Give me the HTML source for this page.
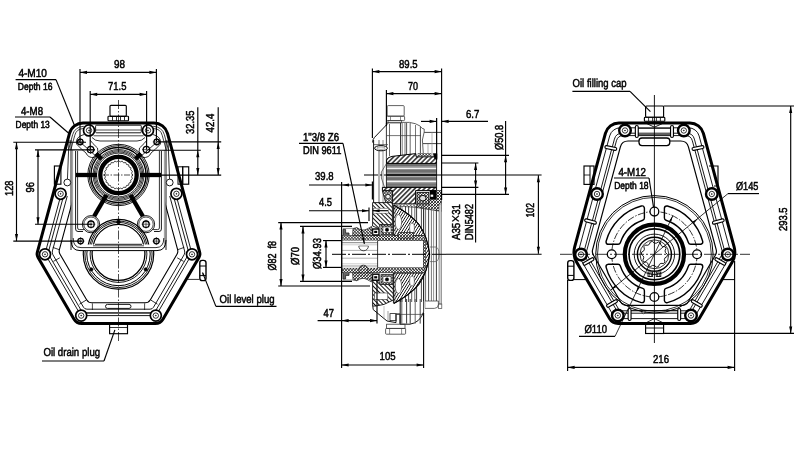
<!DOCTYPE html>
<html><head><meta charset="utf-8"><title>Gearbox dimensions</title>
<style>
html,body{margin:0;padding:0;background:#fff;}
body{width:800px;height:450px;overflow:hidden;}
svg{display:block;}
text{text-rendering:geometricPrecision;}
.t{font-family:"Liberation Sans","DejaVu Sans",sans-serif;fill:#000;stroke:#000;stroke-width:0.5;}
.b{font-family:"Liberation Sans","DejaVu Sans",sans-serif;fill:#000;stroke:#000;stroke-width:0.55;}
</style></head><body>
<svg width="800" height="450" viewBox="0 0 800 450" style="filter:grayscale(1)">
<rect x="0" y="0" width="800" height="450" fill="#fff"/>
<rect x="110.00" y="105.30" width="16.30" height="11.00" rx="1" stroke="#000" stroke-width="1.15" fill="none" />
<rect x="108.00" y="116.20" width="20.50" height="4.60" rx="0.8" stroke="#000" stroke-width="1.15" fill="none" />
<line x1="112.50" y1="116.40" x2="112.50" y2="120.60" stroke="#000" stroke-width="0.8" />
<line x1="116.50" y1="116.40" x2="116.50" y2="120.60" stroke="#000" stroke-width="0.8" />
<line x1="120.50" y1="116.40" x2="120.50" y2="120.60" stroke="#000" stroke-width="0.8" />
<line x1="124.50" y1="116.40" x2="124.50" y2="120.60" stroke="#000" stroke-width="0.8" />
<rect x="109.60" y="323.70" width="17.90" height="10.00" rx="0" stroke="#000" stroke-width="1.15" fill="none" />
<line x1="109.60" y1="327.50" x2="127.50" y2="327.50" stroke="#000" stroke-width="0.8" />
<rect x="54.40" y="166.00" width="6.50" height="18.20" rx="0" stroke="#000" stroke-width="1.15" fill="none" />
<rect x="182.70" y="166.80" width="6.00" height="17.40" rx="0" stroke="#000" stroke-width="1.15" fill="none" />
<rect x="178.00" y="166.80" width="4.70" height="17.40" rx="0" stroke="#000" stroke-width="1.0" fill="none" />
<rect x="199.80" y="260.40" width="6.20" height="20.20" rx="2.4" stroke="#000" stroke-width="1.4" fill="#fff" />
<line x1="199.80" y1="266.00" x2="206.00" y2="266.00" stroke="#000" stroke-width="1.0" />
<line x1="199.80" y1="275.60" x2="206.00" y2="275.60" stroke="#000" stroke-width="1.0" />
<line x1="187.40" y1="279.40" x2="199.80" y2="279.40" stroke="#333" stroke-width="1.0" />
<path d="M83.02,123.00 A14,14 0 0 0 69.50,133.34 L37.36,252.17 A7,7 0 0 0 38.08,257.53 L73.90,318.93 A9,9 0 0 0 81.67,323.40 L155.33,323.40 A9,9 0 0 0 163.10,318.93 L198.92,257.53 A7,7 0 0 0 199.64,252.17 L167.50,133.34 A14,14 0 0 0 153.98,123.00 Z" stroke="#000" stroke-width="3.0" fill="none" />
<clipPath id="lc"><path d="M0,196 H71.2 V250.8 H165.8 V196 H240 V340 H0 Z"/></clipPath>
<clipPath id="lc2"><path d="M0,100 H84 V150 H0 Z M153,100 H240 V150 H153 Z"/></clipPath>
<g clip-path="url(#lc)">
<path d="M85.16,130.80 A9,9 0 0 0 76.47,137.45 L45.42,252.27 A4,4 0 0 0 45.82,255.33 L79.53,313.12 A5,5 0 0 0 83.85,315.60 L153.15,315.60 A5,5 0 0 0 157.47,313.12 L191.18,255.33 A4,4 0 0 0 191.58,252.27 L160.53,137.45 A9,9 0 0 0 151.84,130.80 Z" stroke="#000" stroke-width="0.9" fill="none" />
<path d="M85.77,133.60 A7,7 0 0 0 79.02,138.77 L48.54,251.47 A5,5 0 0 0 49.04,255.29 L81.14,310.32 A5,5 0 0 0 85.46,312.80 L151.54,312.80 A5,5 0 0 0 155.86,310.32 L187.96,255.29 A5,5 0 0 0 188.46,251.47 L157.98,138.77 A7,7 0 0 0 151.23,133.60 Z" stroke="#000" stroke-width="0.9" fill="none" />
<path d="M87.00,137.20 A5,5 0 0 0 82.17,140.89 L52.40,250.96 A5,5 0 0 0 52.91,254.78 L83.50,307.22 A4,4 0 0 0 86.95,309.20 L150.05,309.20 A4,4 0 0 0 153.50,307.22 L184.09,254.78 A5,5 0 0 0 184.60,250.96 L154.83,140.89 A5,5 0 0 0 150.00,137.20 Z" stroke="#000" stroke-width="0.9" fill="none" />
<path d="M91.90,143.60 A5,5 0 0 0 87.07,147.29 L59.39,249.64 A6,6 0 0 0 60.00,254.23 L86.60,299.82 A6,6 0 0 0 91.78,302.80 L145.22,302.80 A6,6 0 0 0 150.40,299.82 L177.00,254.23 A6,6 0 0 0 177.61,249.64 L149.93,147.29 A5,5 0 0 0 145.10,143.60 Z" stroke="#000" stroke-width="1.1" fill="none" />
</g>
<g clip-path="url(#lc2)">
<path d="M83.32,126.40 A11,11 0 0 0 72.70,134.53 L40.69,252.90 A4,4 0 0 0 41.10,255.96 L76.72,317.02 A6,6 0 0 0 81.90,320.00 L155.10,320.00 A6,6 0 0 0 160.28,317.02 L195.90,255.96 A4,4 0 0 0 196.31,252.90 L164.30,134.53 A11,11 0 0 0 153.68,126.40 Z" stroke="#111" stroke-width="0.8" fill="none" />
<path d="M83.48,128.60 A9,9 0 0 0 74.79,135.25 L43.05,252.59 A4,4 0 0 0 43.46,255.65 L77.98,314.82 A6,6 0 0 0 83.16,317.80 L153.84,317.80 A6,6 0 0 0 159.02,314.82 L193.54,255.65 A4,4 0 0 0 193.95,252.59 L162.21,135.25 A9,9 0 0 0 153.52,128.60 Z" stroke="#111" stroke-width="0.8" fill="none" />
</g>
<line x1="69.00" y1="140.00" x2="67.40" y2="180.00" stroke="#000" stroke-width="0.8" />
<line x1="71.00" y1="140.00" x2="71.00" y2="250.00" stroke="#000" stroke-width="0.9" />
<line x1="72.60" y1="150.00" x2="72.60" y2="246.00" stroke="#555" stroke-width="0.6" />
<line x1="52.80" y1="247.40" x2="59.60" y2="249.80" stroke="#000" stroke-width="0.8" />
<line x1="53.40" y1="261.40" x2="59.80" y2="257.80" stroke="#000" stroke-width="0.8" />
<line x1="92.40" y1="303.30" x2="92.40" y2="310.00" stroke="#000" stroke-width="0.7" />
<line x1="79.50" y1="304.20" x2="86.00" y2="300.20" stroke="#000" stroke-width="0.8" />
<line x1="168.00" y1="140.00" x2="169.60" y2="180.00" stroke="#000" stroke-width="0.8" />
<line x1="166.00" y1="140.00" x2="166.00" y2="250.00" stroke="#000" stroke-width="0.9" />
<line x1="164.40" y1="150.00" x2="164.40" y2="246.00" stroke="#555" stroke-width="0.6" />
<line x1="184.20" y1="247.40" x2="177.40" y2="249.80" stroke="#000" stroke-width="0.8" />
<line x1="183.60" y1="261.40" x2="177.20" y2="257.80" stroke="#000" stroke-width="0.8" />
<line x1="144.60" y1="303.30" x2="144.60" y2="310.00" stroke="#000" stroke-width="0.7" />
<line x1="157.50" y1="304.20" x2="151.00" y2="300.20" stroke="#000" stroke-width="0.8" />
<line x1="118.50" y1="100.00" x2="118.50" y2="341.00" stroke="#000" stroke-width="0.7" stroke-dasharray="9 2 1.5 2"/>
<circle cx="89.00" cy="130.40" r="5.50" stroke="#000" stroke-width="1.7" fill="#fff" />
<circle cx="89.00" cy="130.40" r="2.70" stroke="#000" stroke-width="0.8" fill="none" />
<circle cx="89.00" cy="130.40" r="0.50" stroke="#000" stroke-width="0.5" fill="#000" />
<circle cx="148.00" cy="130.40" r="5.50" stroke="#000" stroke-width="1.7" fill="#fff" />
<circle cx="148.00" cy="130.40" r="2.70" stroke="#000" stroke-width="0.8" fill="none" />
<circle cx="148.00" cy="130.40" r="0.50" stroke="#000" stroke-width="0.5" fill="#000" />
<circle cx="60.60" cy="193.80" r="5.50" stroke="#000" stroke-width="1.7" fill="#fff" />
<circle cx="60.60" cy="193.80" r="2.70" stroke="#000" stroke-width="0.8" fill="none" />
<circle cx="60.60" cy="193.80" r="0.50" stroke="#000" stroke-width="0.5" fill="#000" />
<circle cx="176.40" cy="193.80" r="5.50" stroke="#000" stroke-width="1.7" fill="#fff" />
<circle cx="176.40" cy="193.80" r="2.70" stroke="#000" stroke-width="0.8" fill="none" />
<circle cx="176.40" cy="193.80" r="0.50" stroke="#000" stroke-width="0.5" fill="#000" />
<circle cx="45.00" cy="254.30" r="5.50" stroke="#000" stroke-width="1.7" fill="#fff" />
<circle cx="45.00" cy="254.30" r="2.70" stroke="#000" stroke-width="0.8" fill="none" />
<circle cx="45.00" cy="254.30" r="0.50" stroke="#000" stroke-width="0.5" fill="#000" />
<circle cx="192.00" cy="254.30" r="5.50" stroke="#000" stroke-width="1.7" fill="#fff" />
<circle cx="192.00" cy="254.30" r="2.70" stroke="#000" stroke-width="0.8" fill="none" />
<circle cx="192.00" cy="254.30" r="0.50" stroke="#000" stroke-width="0.5" fill="#000" />
<circle cx="81.20" cy="315.60" r="5.50" stroke="#000" stroke-width="1.7" fill="#fff" />
<circle cx="81.20" cy="315.60" r="2.70" stroke="#000" stroke-width="0.8" fill="none" />
<circle cx="81.20" cy="315.60" r="0.50" stroke="#000" stroke-width="0.5" fill="#000" />
<circle cx="155.80" cy="315.60" r="5.50" stroke="#000" stroke-width="1.7" fill="#fff" />
<circle cx="155.80" cy="315.60" r="2.70" stroke="#000" stroke-width="0.8" fill="none" />
<circle cx="155.80" cy="315.60" r="0.50" stroke="#000" stroke-width="0.5" fill="#000" />
<circle cx="67.30" cy="182.50" r="3.40" stroke="#000" stroke-width="0.9" fill="#fff" />
<circle cx="169.70" cy="182.50" r="3.40" stroke="#000" stroke-width="0.9" fill="#fff" />
<rect x="95.60" y="125.20" width="45.70" height="7.60" rx="1" stroke="#000" stroke-width="0.9" fill="none" />
<line x1="96.00" y1="130.00" x2="141.00" y2="130.00" stroke="#000" stroke-width="0.7" />
<rect x="105.50" y="304.40" width="25.50" height="4.00" rx="2" stroke="#000" stroke-width="0.9" fill="none" />
<line x1="86.00" y1="313.20" x2="151.00" y2="313.20" stroke="#000" stroke-width="0.7" />
<path d="M75.6,151 L75.6,229 Q75.6,231.5 78,231.5 L83,231.5" stroke="#000" stroke-width="0.9" fill="none" />
<path d="M161.4,151 L161.4,229 Q161.4,231.5 159.0,231.5 L154.0,231.5" stroke="#000" stroke-width="0.9" fill="none" />
<path d="M77.6,151 L77.6,228 Q77.6,229.6 79.5,229.6 L84,229.6" stroke="#000" stroke-width="0.8" fill="none" />
<path d="M159.4,151 L159.4,228 Q159.4,229.6 157.5,229.6 L153.0,229.6" stroke="#000" stroke-width="0.8" fill="none" />
<path d="M71,240 Q71,250.6 80,250.6 L157.0,250.6 Q166.0,250.6 166.0,240" stroke="#000" stroke-width="1.0" fill="none" />
<path d="M73.2,238 Q73.2,247.6 81,247.6 L156.0,247.6 Q163.8,247.6 163.8,238" stroke="#000" stroke-width="0.8" fill="none" />
<circle cx="118.50" cy="175.00" r="30.70" stroke="#000" stroke-width="0.9" fill="none" />
<circle cx="118.50" cy="175.00" r="29.30" stroke="#000" stroke-width="0.9" fill="none" />
<circle cx="118.50" cy="175.00" r="27.60" stroke="#000" stroke-width="1.5" fill="none" />
<circle cx="118.50" cy="175.00" r="25.50" stroke="#000" stroke-width="0.8" fill="none" />
<circle cx="118.50" cy="175.00" r="24.30" stroke="#000" stroke-width="0.8" fill="none" />
<circle cx="118.50" cy="175.00" r="23.10" stroke="#000" stroke-width="0.8" fill="none" />
<circle cx="118.50" cy="175.00" r="21.90" stroke="#000" stroke-width="0.8" fill="none" />
<circle cx="118.50" cy="175.00" r="18.20" stroke="#000" stroke-width="4.3" fill="none" />
<path d="M132.90,175.00 L131.59,176.72 L132.41,178.73 L130.70,180.05 L130.97,182.20 L128.97,183.04 L128.68,185.18 L126.54,185.47 L125.70,187.47 L123.55,187.20 L122.23,188.91 L120.22,188.09 L118.50,189.40 L116.78,188.09 L114.77,188.91 L113.45,187.20 L111.30,187.47 L110.46,185.47 L108.32,185.18 L108.03,183.04 L106.03,182.20 L106.30,180.05 L104.59,178.73 L105.41,176.72 L104.10,175.00 L105.41,173.28 L104.59,171.27 L106.30,169.95 L106.03,167.80 L108.03,166.96 L108.32,164.82 L110.46,164.53 L111.30,162.53 L113.45,162.80 L114.77,161.09 L116.78,161.91 L118.50,160.60 L120.22,161.91 L122.23,161.09 L123.55,162.80 L125.70,162.53 L126.54,164.53 L128.68,164.82 L128.97,166.96 L130.97,167.80 L130.70,169.95 L132.41,171.27 L131.59,173.28 Z" stroke="#000" stroke-width="0.7" fill="none" />
<line x1="103.00" y1="175.00" x2="134.00" y2="175.00" stroke="#000" stroke-width="0.7" stroke-dasharray="6 1.5 1.5 1.5"/>
<line x1="76.00" y1="175.00" x2="97.00" y2="175.00" stroke="#000" stroke-width="4.3" />
<line x1="161.00" y1="175.00" x2="140.00" y2="175.00" stroke="#000" stroke-width="4.3" />
<line x1="106.50" y1="195.00" x2="94.00" y2="216.50" stroke="#000" stroke-width="4.4" />
<line x1="130.50" y1="195.00" x2="143.00" y2="216.50" stroke="#000" stroke-width="4.4" />
<line x1="96.00" y1="153.50" x2="101.50" y2="159.00" stroke="#000" stroke-width="4.2" />
<line x1="141.00" y1="153.50" x2="135.50" y2="159.00" stroke="#000" stroke-width="4.2" />
<circle cx="80.25" cy="141.90" r="2.80" stroke="#000" stroke-width="1.3" fill="none" />
<line x1="76.25" y1="141.90" x2="84.25" y2="141.90" stroke="#000" stroke-width="0.6" />
<line x1="80.25" y1="137.90" x2="80.25" y2="145.90" stroke="#000" stroke-width="0.6" />
<circle cx="156.75" cy="141.90" r="2.80" stroke="#000" stroke-width="1.3" fill="none" />
<line x1="152.75" y1="141.90" x2="160.75" y2="141.90" stroke="#000" stroke-width="0.6" />
<line x1="156.75" y1="137.90" x2="156.75" y2="145.90" stroke="#000" stroke-width="0.6" />
<circle cx="90.60" cy="149.60" r="3.20" stroke="#000" stroke-width="1.3" fill="none" />
<line x1="86.20" y1="149.60" x2="95.00" y2="149.60" stroke="#000" stroke-width="0.6" />
<line x1="90.60" y1="145.20" x2="90.60" y2="154.00" stroke="#000" stroke-width="0.6" />
<circle cx="146.40" cy="149.60" r="3.20" stroke="#000" stroke-width="1.3" fill="none" />
<line x1="142.00" y1="149.60" x2="150.80" y2="149.60" stroke="#000" stroke-width="0.6" />
<line x1="146.40" y1="145.20" x2="146.40" y2="154.00" stroke="#000" stroke-width="0.6" />
<circle cx="91.00" cy="224.20" r="8.60" stroke="#000" stroke-width="0.9" fill="#fff" />
<circle cx="146.00" cy="224.20" r="8.60" stroke="#000" stroke-width="0.9" fill="#fff" />
<circle cx="91.00" cy="224.20" r="7.20" stroke="#000" stroke-width="0.7" fill="none" />
<circle cx="146.00" cy="224.20" r="7.20" stroke="#000" stroke-width="0.7" fill="none" />
<circle cx="91.00" cy="224.20" r="3.20" stroke="#000" stroke-width="1.3" fill="none" />
<line x1="86.60" y1="224.20" x2="95.40" y2="224.20" stroke="#000" stroke-width="0.6" />
<line x1="91.00" y1="219.80" x2="91.00" y2="228.60" stroke="#000" stroke-width="0.6" />
<circle cx="146.00" cy="224.20" r="3.20" stroke="#000" stroke-width="1.3" fill="none" />
<line x1="141.60" y1="224.20" x2="150.40" y2="224.20" stroke="#000" stroke-width="0.6" />
<line x1="146.00" y1="219.80" x2="146.00" y2="228.60" stroke="#000" stroke-width="0.6" />
<circle cx="80.60" cy="241.10" r="2.80" stroke="#000" stroke-width="1.3" fill="none" />
<line x1="76.60" y1="241.10" x2="84.60" y2="241.10" stroke="#000" stroke-width="0.6" />
<line x1="80.60" y1="237.10" x2="80.60" y2="245.10" stroke="#000" stroke-width="0.6" />
<circle cx="156.40" cy="241.10" r="2.80" stroke="#000" stroke-width="1.3" fill="none" />
<line x1="152.40" y1="241.10" x2="160.40" y2="241.10" stroke="#000" stroke-width="0.6" />
<line x1="156.40" y1="237.10" x2="156.40" y2="245.10" stroke="#000" stroke-width="0.6" />
<path d="M84,134.5 Q75,137 76.5,144 Q82,150 86,153 Q88,158 94,157.5 Q99,155 97.5,148 Q92,143 90,140" stroke="#000" stroke-width="0.8" fill="none" />
<path d="M153.0,134.5 Q162.0,137 160.5,144 Q155.0,150 151.0,153 Q149.0,158 143.0,157.5 Q138.0,155 139.5,148 Q145.0,143 147.0,140" stroke="#000" stroke-width="0.8" fill="none" />
<path d="M92,137.5 Q95,141 100,141 L137.0,141 Q142.0,141 145.0,137.5" stroke="#000" stroke-width="0.8" fill="none" />
<path d="M93.5,135.8 L143.5,135.8" stroke="#000" stroke-width="0.7" fill="none" />
<path d="M97,145 Q118.5,130 140.0,145" stroke="#000" stroke-width="0.0" fill="none" />
<clipPath id="lb"><rect x="60" y="251" width="120" height="60"/></clipPath>
<g clip-path="url(#lb)">
<circle cx="118.50" cy="254.00" r="35.20" stroke="#000" stroke-width="1.2" fill="none" />
<circle cx="118.50" cy="254.00" r="33.60" stroke="#000" stroke-width="0.9" fill="none" />
<circle cx="118.50" cy="254.00" r="31.70" stroke="#000" stroke-width="1.0" fill="none" />
<circle cx="118.50" cy="254.00" r="28.40" stroke="#000" stroke-width="0.9" fill="none" />
<circle cx="118.50" cy="254.00" r="26.40" stroke="#000" stroke-width="1.3" fill="none" />
</g>
<clipPath id="ld"><rect x="60" y="200" width="120" height="44.4"/></clipPath>
<g clip-path="url(#ld)">
<circle cx="118.50" cy="250.00" r="30.60" stroke="#000" stroke-width="1.3" fill="none" />
<circle cx="118.50" cy="250.00" r="29.00" stroke="#000" stroke-width="0.9" fill="none" />
<circle cx="118.50" cy="250.00" r="27.60" stroke="#000" stroke-width="0.9" fill="none" />
<circle cx="118.50" cy="250.00" r="25.60" stroke="#000" stroke-width="1.2" fill="none" />
</g>
<line x1="95.00" y1="244.30" x2="142.00" y2="244.30" stroke="#000" stroke-width="0.9" />
<line x1="93.00" y1="245.80" x2="144.00" y2="245.80" stroke="#000" stroke-width="0.7" />
<circle cx="118.50" cy="222.00" r="1.80" stroke="#000" stroke-width="0.8" fill="#000" />
<circle cx="91.30" cy="269.40" r="1.70" stroke="#000" stroke-width="0.6" fill="#000" />
<circle cx="145.70" cy="269.40" r="1.70" stroke="#000" stroke-width="0.6" fill="#000" />
<line x1="78.00" y1="140.20" x2="97.50" y2="157.50" stroke="#000" stroke-width="0.8" />
<line x1="159.00" y1="140.20" x2="139.50" y2="157.50" stroke="#000" stroke-width="0.8" />
<defs>
<pattern id="hA" width="3.4" height="3.4" patternUnits="userSpaceOnUse" patternTransform="rotate(-45)"><rect width="3.4" height="3.4" fill="#fff"/><line x1="0" y1="1.7" x2="3.4" y2="1.7" stroke="#000" stroke-width="1.25"/></pattern>
<pattern id="hB" width="3.0" height="3.0" patternUnits="userSpaceOnUse" patternTransform="rotate(45)"><rect width="3" height="3" fill="#fff"/><line x1="0" y1="1.5" x2="3" y2="1.5" stroke="#111" stroke-width="1.0"/></pattern>
<pattern id="hC" width="2.3" height="2.3" patternUnits="userSpaceOnUse" patternTransform="rotate(-58)"><rect width="2.3" height="2.3" fill="#fff"/><line x1="0" y1="1.15" x2="2.3" y2="1.15" stroke="#000" stroke-width="0.75"/></pattern>
<pattern id="hX" width="2.1" height="2.1" patternUnits="userSpaceOnUse" patternTransform="rotate(45)"><rect width="2.1" height="2.1" fill="#fff"/><path d="M0,1.05 H2.1 M1.05,0 V2.1" stroke="#111" stroke-width="0.6"/></pattern>
<pattern id="hL" width="2.4" height="2.4" patternUnits="userSpaceOnUse" patternTransform="rotate(45)"><rect width="2.4" height="2.4" fill="#fff"/><path d="M0,1.2 H2.4 M1.2,0 V2.4" stroke="#333" stroke-width="0.45"/></pattern>
</defs>
<rect x="387.20" y="105.60" width="17.00" height="10.60" rx="1" stroke="#3a3a3a" stroke-width="0.8" fill="none" />
<rect x="386.60" y="116.20" width="18.00" height="4.40" rx="0.8" stroke="#3a3a3a" stroke-width="0.8" fill="none" />
<line x1="390.50" y1="116.40" x2="390.50" y2="120.40" stroke="#3a3a3a" stroke-width="0.6" />
<line x1="400.50" y1="116.40" x2="400.50" y2="120.40" stroke="#3a3a3a" stroke-width="0.6" />
<rect x="388.00" y="120.60" width="13.50" height="2.40" rx="0" stroke="#3a3a3a" stroke-width="0.7" fill="none" />
<path d="M387.5,123.8 L374.5,137.4 Q372.6,139.5 372.6,142.5" stroke="#111" stroke-width="1.0" fill="none" />
<path d="M387.5,123.8 L387.5,122.4 L409.5,122.4 Q416,123.2 420,126 L422.2,128.4 L424.2,129 L424.2,132 L422.4,140 L423.4,155" stroke="#3a3a3a" stroke-width="0.8" fill="none" />
<line x1="386.40" y1="123.00" x2="386.40" y2="156.00" stroke="#222" stroke-width="0.9" />
<line x1="389.50" y1="124.00" x2="389.50" y2="156.00" stroke="#555" stroke-width="0.9" />
<line x1="400.50" y1="123.00" x2="400.50" y2="156.00" stroke="#222" stroke-width="0.9" />
<line x1="402.20" y1="123.00" x2="402.20" y2="156.00" stroke="#444" stroke-width="0.7" />
<line x1="405.00" y1="123.00" x2="405.00" y2="156.00" stroke="#444" stroke-width="0.7" />
<line x1="406.60" y1="123.00" x2="406.60" y2="156.00" stroke="#222" stroke-width="0.8" />
<line x1="410.20" y1="123.00" x2="410.20" y2="156.00" stroke="#444" stroke-width="0.8" />
<line x1="415.50" y1="125.00" x2="415.50" y2="156.00" stroke="#666" stroke-width="0.9" />
<line x1="420.40" y1="127.00" x2="420.40" y2="156.00" stroke="#333" stroke-width="0.9" />
<line x1="373.60" y1="140.00" x2="373.60" y2="203.00" stroke="#111" stroke-width="1.0" />
<line x1="379.00" y1="140.00" x2="379.00" y2="203.00" stroke="#555" stroke-width="0.9" />
<line x1="383.00" y1="140.00" x2="383.00" y2="203.00" stroke="#777" stroke-width="0.8" />
<line x1="386.40" y1="135.60" x2="421.00" y2="135.60" stroke="#3a3a3a" stroke-width="0.7" />
<line x1="386.40" y1="156.00" x2="386.40" y2="188.00" stroke="#222" stroke-width="0.8" />
<ellipse cx="381" cy="148.2" rx="6.4" ry="2.6" fill="#fff" stroke="#000" stroke-width="1.0"/>
<ellipse cx="381" cy="148.2" rx="4.2" ry="1.2" fill="none" stroke="#555" stroke-width="0.5"/>
<line x1="374.00" y1="144.60" x2="388.00" y2="144.60" stroke="#3a3a3a" stroke-width="0.7" />
<line x1="436.60" y1="118.00" x2="436.60" y2="200.00" stroke="#222" stroke-width="0.9" />
<line x1="424.20" y1="132.40" x2="441.60" y2="132.40" stroke="#333" stroke-width="0.9" />
<line x1="423.00" y1="143.60" x2="441.60" y2="143.60" stroke="#333" stroke-width="0.9" />
<line x1="428.00" y1="143.80" x2="428.00" y2="156.00" stroke="#777" stroke-width="0.6" />
<line x1="432.00" y1="132.00" x2="432.00" y2="156.00" stroke="#888" stroke-width="0.6" />
<rect x="386.60" y="163.40" width="50.00" height="24.00" rx="0" stroke="none" stroke-width="0" fill="#6f6f6f" />
<line x1="386.60" y1="167.00" x2="436.60" y2="167.00" stroke="#bdbdbd" stroke-width="0.9" />
<line x1="386.60" y1="168.60" x2="436.60" y2="168.60" stroke="#f4f4f4" stroke-width="1.5" />
<line x1="386.60" y1="173.20" x2="436.60" y2="173.20" stroke="#b5b5b5" stroke-width="0.9" />
<line x1="386.60" y1="176.70" x2="436.60" y2="176.70" stroke="#c4c4c4" stroke-width="0.9" />
<line x1="386.60" y1="181.20" x2="436.60" y2="181.20" stroke="#f4f4f4" stroke-width="1.5" />
<line x1="386.60" y1="182.80" x2="436.60" y2="182.80" stroke="#bdbdbd" stroke-width="0.9" />
<line x1="386.60" y1="185.20" x2="436.60" y2="185.20" stroke="#8a8a8a" stroke-width="0.8" />
<line x1="386.60" y1="175.00" x2="436.60" y2="175.00" stroke="#111" stroke-width="1.2" />
<rect x="386.60" y="163.40" width="50.00" height="24.00" rx="0" stroke="#222" stroke-width="0.8" fill="none" />
<path d="M386.6,163.4 L381.4,172 L381.4,178 L384.8,188" stroke="#3a3a3a" stroke-width="0.7" fill="none" />
<path d="M386.6,163.4 L386.6,160 Q387.4,157.2 392,156.4 L415.8,153.6 L416.2,156.8 L436.4,156.8 L436.4,163.4 Z" stroke="#000" stroke-width="1.0" fill="url(#hA)" />
<path d="M382.4,187.4 L436.4,187.4 L436.4,190.6 L415.6,190.6 L415.6,204 L392.6,204 L392.6,190.6 L382.4,190.6 Z" stroke="#000" stroke-width="1.0" fill="url(#hA)" />
<path d="M433.2,153.6 L437,153.6 L437,158.8 L434.6,158.8 Z" stroke="#000" stroke-width="0.5" fill="#000" />
<rect x="418.00" y="153.40" width="13.00" height="2.60" rx="0" stroke="#555" stroke-width="0.5" fill="url(#hX)" />
<rect x="430.00" y="190.60" width="6.20" height="8.60" rx="0" stroke="#000" stroke-width="0.5" fill="#000" />
<rect x="430.60" y="194.60" width="2.60" height="2.20" rx="0" stroke="none" stroke-width="0" fill="#fff" />
<path d="M382.4,190.8 L392.4,190.8 L392.4,203.6 L386,203.6 Z" stroke="#111" stroke-width="0.9" fill="url(#hX)" />
<circle cx="388.00" cy="196.60" r="2.30" stroke="#111" stroke-width="0.8" fill="#eee" />
<rect x="417.00" y="192.40" width="11.80" height="11.60" rx="0" stroke="#111" stroke-width="0.9" fill="url(#hX)" />
<ellipse cx="422.8" cy="198.2" rx="3.3" ry="2.8" fill="#ddd" stroke="#000" stroke-width="1"/>
<path d="M392.6,204 L417,204 L417,207.6 L392.6,205.6 Z" stroke="#333" stroke-width="0.6" fill="url(#hL)" />
<path d="M417,204 L429,204 L429,199.6 L436.4,199.6 L436.4,190.6 L441.4,190.6 L441.4,211.4 L417,207.6 Z" stroke="#222" stroke-width="0.7" fill="url(#hX)" />
<path d="M372.6,202.6 L392.4,202.6 L392.4,224.6 L380,224.6 L378.6,228.6 L372.6,226 Z" stroke="#111" stroke-width="0.9" fill="url(#hB)" />
<rect x="373.40" y="208.20" width="15.00" height="5.00" rx="0" stroke="#444" stroke-width="0.5" fill="#fff" />
<path d="M372.6,306 L372.6,280.4 L378.6,280 L380,284.4 L393.4,284.4 L393.4,300 L384,304.4 L376,306 Z" stroke="#111" stroke-width="0.9" fill="url(#hB)" />
<rect x="374.40" y="293.00" width="13.40" height="6.40" rx="0" stroke="#333" stroke-width="0.6" fill="#fff" />
<line x1="423.60" y1="209.00" x2="423.60" y2="301.00" stroke="#111" stroke-width="1.0" />
<line x1="425.60" y1="209.00" x2="425.60" y2="301.00" stroke="#444" stroke-width="0.8" />
<line x1="428.60" y1="209.00" x2="428.60" y2="301.00" stroke="#333" stroke-width="0.9" />
<line x1="431.40" y1="209.00" x2="431.40" y2="301.00" stroke="#555" stroke-width="0.8" />
<line x1="433.60" y1="209.00" x2="433.60" y2="301.00" stroke="#777" stroke-width="0.8" />
<line x1="436.40" y1="209.00" x2="436.40" y2="301.00" stroke="#222" stroke-width="0.9" />
<line x1="400.20" y1="206.00" x2="400.20" y2="240.00" stroke="#222" stroke-width="0.9" />
<line x1="400.20" y1="268.00" x2="400.20" y2="302.00" stroke="#222" stroke-width="0.9" />
<line x1="402.00" y1="206.00" x2="402.00" y2="240.00" stroke="#555" stroke-width="0.8" />
<line x1="402.00" y1="268.00" x2="402.00" y2="302.00" stroke="#555" stroke-width="0.8" />
<line x1="405.50" y1="206.00" x2="405.50" y2="240.00" stroke="#333" stroke-width="0.9" />
<line x1="405.50" y1="268.00" x2="405.50" y2="302.00" stroke="#333" stroke-width="0.9" />
<line x1="408.60" y1="206.00" x2="408.60" y2="240.00" stroke="#333" stroke-width="0.9" />
<line x1="408.60" y1="268.00" x2="408.60" y2="302.00" stroke="#333" stroke-width="0.9" />
<line x1="411.70" y1="206.00" x2="411.70" y2="240.00" stroke="#444" stroke-width="0.9" />
<line x1="411.70" y1="268.00" x2="411.70" y2="302.00" stroke="#444" stroke-width="0.9" />
<line x1="414.80" y1="206.00" x2="414.80" y2="240.00" stroke="#555" stroke-width="0.9" />
<line x1="414.80" y1="268.00" x2="414.80" y2="302.00" stroke="#555" stroke-width="0.9" />
<line x1="416.60" y1="206.00" x2="416.60" y2="240.00" stroke="#222" stroke-width="0.9" />
<line x1="416.60" y1="268.00" x2="416.60" y2="302.00" stroke="#222" stroke-width="0.9" />
<line x1="421.40" y1="206.00" x2="421.40" y2="240.00" stroke="#333" stroke-width="0.9" />
<line x1="421.40" y1="268.00" x2="421.40" y2="302.00" stroke="#333" stroke-width="0.9" />
<rect x="439.00" y="204.00" width="2.60" height="100.00" rx="0" stroke="#555" stroke-width="0.5" fill="#cfcfcf" />
<path d="M429.6,247 L436,247 Q439,248 439,254.3 Q439,260.6 436,261.6 L429.6,261.6" stroke="#555" stroke-width="0.7" fill="none" />
<line x1="436.00" y1="247.00" x2="436.00" y2="261.60" stroke="#888" stroke-width="0.5" />
<line x1="423.60" y1="205.60" x2="423.60" y2="235.00" stroke="#333" stroke-width="0.8" />
<line x1="423.60" y1="273.00" x2="423.60" y2="312.00" stroke="#222" stroke-width="0.9" />
<path d="M393.8,205.2 Q409.6,213.4 418.6,224 Q427.6,236.4 429.6,254.3 Q427.6,272.2 418.6,284.6 Q409.6,295.2 393.8,303.4 L393.6,273 L423.6,273 L423.6,235.6 L393,235.6 Z" stroke="#111" stroke-width="1.0" fill="url(#hC)" />
<path d="M393.8,205.2 Q409.6,213.4 418.6,224 Q427.6,236.4 429.6,254.3 Q427.6,272.2 418.6,284.6 Q409.6,295.2 393.8,303.4" stroke="#000" stroke-width="1.1" fill="none" />
<ellipse cx="398.4" cy="222" rx="3.2" ry="7.5" fill="#fff" stroke="#333" stroke-width="0.6"/>
<ellipse cx="398.4" cy="286" rx="3.2" ry="7.5" fill="#fff" stroke="#333" stroke-width="0.6"/>
<ellipse cx="412" cy="228" rx="2.4" ry="5" fill="#fff" stroke="#333" stroke-width="0.6"/>
<ellipse cx="412" cy="281" rx="2.4" ry="5" fill="#fff" stroke="#333" stroke-width="0.6"/>
<line x1="393.40" y1="205.00" x2="393.40" y2="235.60" stroke="#222" stroke-width="0.9" />
<line x1="393.40" y1="273.00" x2="393.40" y2="303.00" stroke="#222" stroke-width="0.9" />
<line x1="395.20" y1="206.00" x2="395.20" y2="235.60" stroke="#666" stroke-width="0.6" />
<line x1="395.20" y1="273.00" x2="395.20" y2="302.00" stroke="#666" stroke-width="0.6" />
<rect x="341.80" y="235.60" width="83.00" height="5.00" rx="0" stroke="#222" stroke-width="0.6" fill="url(#hX)" />
<rect x="341.80" y="267.80" width="83.00" height="5.00" rx="0" stroke="#222" stroke-width="0.6" fill="url(#hX)" />
<rect x="423.40" y="240.60" width="2.40" height="27.20" rx="0" stroke="#333" stroke-width="0.5" fill="url(#hX)" />
<rect x="342.00" y="240.60" width="35.60" height="27.20" rx="0" stroke="none" stroke-width="0" fill="#fff" />
<line x1="342.00" y1="242.60" x2="377.60" y2="242.60" stroke="#9a9a9a" stroke-width="1.2" />
<line x1="342.00" y1="244.80" x2="377.60" y2="244.80" stroke="#c8c8c8" stroke-width="0.9" />
<line x1="342.00" y1="250.40" x2="377.60" y2="250.40" stroke="#b0b0b0" stroke-width="1.0" />
<line x1="342.00" y1="258.20" x2="377.60" y2="258.20" stroke="#b0b0b0" stroke-width="1.0" />
<line x1="342.00" y1="263.80" x2="377.60" y2="263.80" stroke="#c8c8c8" stroke-width="0.9" />
<line x1="342.00" y1="266.00" x2="377.60" y2="266.00" stroke="#9a9a9a" stroke-width="1.2" />
<line x1="377.60" y1="240.60" x2="377.60" y2="267.80" stroke="#222" stroke-width="0.9" />
<line x1="341.80" y1="235.60" x2="341.80" y2="272.80" stroke="#111" stroke-width="1.0" />
<path d="M358.8,246 A4.8,4.8 0 0 0 368.4,246" stroke="#222" stroke-width="0.8" fill="none" />
<line x1="358.80" y1="246.00" x2="368.40" y2="246.00" stroke="#555" stroke-width="0.6" />
<circle cx="363.40" cy="269.80" r="4.60" stroke="#222" stroke-width="0.8" fill="url(#hX)" />
<rect x="398.60" y="232.40" width="15.00" height="5.60" rx="0" stroke="#222" stroke-width="0.7" fill="url(#hX)" />
<rect x="372.60" y="229.00" width="6.40" height="6.00" rx="0" stroke="#000" stroke-width="1.4" fill="#fff" />
<rect x="374.20" y="230.80" width="3.00" height="2.20" rx="0" stroke="none" stroke-width="0" fill="#000" />
<rect x="372.60" y="274.20" width="6.40" height="6.00" rx="0" stroke="#000" stroke-width="1.4" fill="#fff" />
<rect x="374.20" y="276.20" width="3.00" height="2.20" rx="0" stroke="none" stroke-width="0" fill="#000" />
<rect x="381.00" y="225.00" width="12.00" height="9.60" rx="0" stroke="#222" stroke-width="0.8" fill="url(#hX)" />
<rect x="383.00" y="227.00" width="8.00" height="5.60" rx="0" stroke="#333" stroke-width="0.6" fill="#fff" />
<circle cx="387.00" cy="229.80" r="1.70" stroke="#000" stroke-width="0.5" fill="#000" />
<rect x="381.00" y="274.60" width="12.00" height="9.60" rx="0" stroke="#222" stroke-width="0.8" fill="url(#hX)" />
<rect x="383.00" y="276.60" width="8.00" height="5.60" rx="0" stroke="#333" stroke-width="0.6" fill="#fff" />
<circle cx="387.00" cy="279.40" r="1.70" stroke="#000" stroke-width="0.5" fill="#000" />
<path d="M343,235.4 L343,229.4 L345.6,229.4 L345.6,233 L349,233 L349,235.4" stroke="#222" stroke-width="0.8" fill="#666" />
<path d="M352.6,235.4 L353,228.6 L357,227.6 Q362,231.6 367,229 L371.6,226.4 L372.4,235.4 Z" stroke="#222" stroke-width="0.7" fill="url(#hX)" />
<path d="M343,273 L343,279 L345.6,279 L345.6,275.4 L349,275.4 L349,273" stroke="#222" stroke-width="0.8" fill="#666" />
<path d="M352.6,273 L353,279.8 L357,280.8 Q362,276.8 367,279.4 L371.6,282 L372.4,273 Z" stroke="#222" stroke-width="0.7" fill="url(#hX)" />
<line x1="343.00" y1="228.40" x2="356.00" y2="228.40" stroke="#444" stroke-width="0.6" />
<line x1="343.00" y1="280.00" x2="356.00" y2="280.00" stroke="#444" stroke-width="0.6" />
<path d="M372.8,306 L373.2,309.6 L387,321 L396,322.6 L396,314 L400,314 L400,324.2 L410,324.2 Q420,322.6 423.6,312" stroke="#111" stroke-width="1.0" fill="none" />
<rect x="390.00" y="313.60" width="6.00" height="7.00" rx="0" stroke="#222" stroke-width="0.8" fill="none" />
<line x1="400.20" y1="299.00" x2="400.20" y2="323.60" stroke="#111" stroke-width="1.0" />
<line x1="401.80" y1="299.00" x2="401.80" y2="323.60" stroke="#333" stroke-width="0.8" />
<line x1="406.60" y1="299.00" x2="406.60" y2="323.60" stroke="#222" stroke-width="0.9" />
<line x1="410.20" y1="299.00" x2="410.20" y2="323.60" stroke="#222" stroke-width="0.9" />
<line x1="415.20" y1="299.00" x2="415.20" y2="323.60" stroke="#555" stroke-width="0.9" />
<line x1="420.20" y1="299.00" x2="420.20" y2="323.60" stroke="#333" stroke-width="0.9" />
<line x1="388.00" y1="311.00" x2="388.00" y2="321.00" stroke="#777" stroke-width="0.7" />
<line x1="384.00" y1="306.00" x2="384.00" y2="318.00" stroke="#999" stroke-width="0.6" />
<line x1="396.00" y1="314.40" x2="423.00" y2="314.40" stroke="#3a3a3a" stroke-width="0.7" />
<path d="M425,301 L438.4,301 L438.4,304.4 Q438.4,308.4 434.4,308.4 L425,308.4" stroke="#444" stroke-width="0.8" fill="none" />
<rect x="438.40" y="304.00" width="3.40" height="4.40" rx="0" stroke="#444" stroke-width="0.7" fill="none" />
<line x1="425.00" y1="301.00" x2="425.00" y2="308.40" stroke="#777" stroke-width="0.6" />
<rect x="386.60" y="324.20" width="18.40" height="4.20" rx="0" stroke="#3a3a3a" stroke-width="0.8" fill="none" />
<rect x="385.60" y="328.40" width="20.00" height="5.80" rx="0.8" stroke="#3a3a3a" stroke-width="0.8" fill="none" />
<line x1="389.60" y1="328.60" x2="389.60" y2="334.00" stroke="#3a3a3a" stroke-width="0.6" />
<line x1="401.60" y1="328.60" x2="401.60" y2="334.00" stroke="#3a3a3a" stroke-width="0.6" />
<line x1="364.00" y1="175.00" x2="392.00" y2="175.00" stroke="#000" stroke-width="1.0" stroke-dasharray="14 2 2 2"/>
<line x1="392.00" y1="175.00" x2="541.60" y2="175.00" stroke="#000" stroke-width="1.1" />
<line x1="332.00" y1="254.30" x2="446.00" y2="254.30" stroke="#000" stroke-width="1.0" stroke-dasharray="14 2 2 2"/>
<line x1="446.00" y1="254.30" x2="541.60" y2="254.30" stroke="#000" stroke-width="1.1" />
<rect x="645.60" y="106.00" width="18.00" height="11.20" rx="1" stroke="#000" stroke-width="1.15" fill="none" />
<rect x="644.40" y="117.20" width="20.40" height="4.00" rx="0.8" stroke="#000" stroke-width="1.15" fill="none" />
<line x1="648.60" y1="117.40" x2="648.60" y2="121.00" stroke="#000" stroke-width="0.8" />
<line x1="652.60" y1="117.40" x2="652.60" y2="121.00" stroke="#000" stroke-width="0.8" />
<line x1="656.40" y1="117.40" x2="656.40" y2="121.00" stroke="#000" stroke-width="0.8" />
<line x1="660.40" y1="117.40" x2="660.40" y2="121.00" stroke="#000" stroke-width="0.8" />
<rect x="645.60" y="323.50" width="18.00" height="10.00" rx="0" stroke="#000" stroke-width="1.15" fill="none" />
<line x1="645.60" y1="328.00" x2="663.60" y2="328.00" stroke="#000" stroke-width="0.9" />
<rect x="584.00" y="166.00" width="10.00" height="18.40" rx="0" stroke="#000" stroke-width="1.15" fill="none" />
<line x1="590.00" y1="166.00" x2="590.00" y2="184.40" stroke="#000" stroke-width="1.0" />
<line x1="584.00" y1="175.00" x2="590.00" y2="175.00" stroke="#000" stroke-width="0.8" />
<path d="M709,166 L718,166 L718,186 L714,186" stroke="#000" stroke-width="1.15" fill="none" />
<rect x="567.70" y="260.60" width="6.20" height="19.80" rx="2.4" stroke="#000" stroke-width="1.4" fill="#fff" />
<line x1="567.70" y1="266.20" x2="573.90" y2="266.20" stroke="#000" stroke-width="1.0" />
<line x1="567.70" y1="275.40" x2="573.90" y2="275.40" stroke="#000" stroke-width="1.0" />
<line x1="573.90" y1="279.60" x2="587.00" y2="279.60" stroke="#000" stroke-width="1.0" />
<line x1="721.00" y1="279.60" x2="734.60" y2="279.60" stroke="#000" stroke-width="1.0" />
<path d="M618.92,123.00 A14,14 0 0 0 605.40,133.34 L574.68,246.93 A20,20 0 0 0 576.71,262.22 L609.51,318.44 A10,10 0 0 0 618.14,323.40 L690.66,323.40 A10,10 0 0 0 699.29,318.44 L732.09,262.22 A20,20 0 0 0 734.12,246.93 L703.40,133.34 A14,14 0 0 0 689.88,123.00 Z" stroke="#000" stroke-width="3.0" fill="none" />
<clipPath id="rc"><path d="M560,100 H750 V340 H560 Z"/></clipPath>
<path d="M620.29,127.80 A11,11 0 0 0 609.68,135.93 L578.20,252.30 A5,5 0 0 0 578.71,256.12 L613.13,315.13 A7,7 0 0 0 619.18,318.60 L689.62,318.60 A7,7 0 0 0 695.67,315.13 L730.09,256.12 A5,5 0 0 0 730.60,252.30 L699.12,135.93 A11,11 0 0 0 688.51,127.80 Z" stroke="#000" stroke-width="0.9" fill="none" />
<path d="M622.13,133.20 A8,8 0 0 0 614.41,139.11 L584.01,251.53 A5,5 0 0 0 584.51,255.35 L616.52,310.22 A6,6 0 0 0 621.70,313.20 L687.10,313.20 A6,6 0 0 0 692.28,310.22 L724.29,255.35 A5,5 0 0 0 724.79,251.53 L694.39,139.11 A8,8 0 0 0 686.67,133.20 Z" stroke="#000" stroke-width="0.9" fill="none" />
<path d="M623.20,135.60 A7,7 0 0 0 616.45,140.77 L586.58,251.18 A5,5 0 0 0 587.09,255.01 L618.19,308.32 A5,5 0 0 0 622.51,310.80 L686.29,310.80 A5,5 0 0 0 690.61,308.32 L721.71,255.01 A5,5 0 0 0 722.22,251.18 L692.35,140.77 A7,7 0 0 0 685.60,135.60 Z" stroke="#000" stroke-width="0.9" fill="none" />
<path d="M628.10,141.00 A8,8 0 0 0 620.38,146.91 L592.61,249.61 A7,7 0 0 0 593.32,254.96 L620.71,301.93 A7,7 0 0 0 626.76,305.40 L682.04,305.40 A7,7 0 0 0 688.09,301.93 L715.48,254.96 A7,7 0 0 0 716.19,249.61 L688.42,146.91 A8,8 0 0 0 680.70,141.00 Z" stroke="#000" stroke-width="1.2" fill="none" />
<circle cx="625.00" cy="130.50" r="5.80" stroke="#000" stroke-width="2.4" fill="#fff" />
<circle cx="625.00" cy="130.50" r="2.70" stroke="#000" stroke-width="0.8" fill="none" />
<circle cx="625.00" cy="130.50" r="0.50" stroke="#000" stroke-width="0.5" fill="#000" />
<circle cx="683.80" cy="130.50" r="5.80" stroke="#000" stroke-width="2.4" fill="#fff" />
<circle cx="683.80" cy="130.50" r="2.70" stroke="#000" stroke-width="0.8" fill="none" />
<circle cx="683.80" cy="130.50" r="0.50" stroke="#000" stroke-width="0.5" fill="#000" />
<circle cx="597.00" cy="194.00" r="5.80" stroke="#000" stroke-width="2.4" fill="#fff" />
<circle cx="597.00" cy="194.00" r="2.70" stroke="#000" stroke-width="0.8" fill="none" />
<circle cx="597.00" cy="194.00" r="0.50" stroke="#000" stroke-width="0.5" fill="#000" />
<circle cx="711.80" cy="194.00" r="5.80" stroke="#000" stroke-width="2.4" fill="#fff" />
<circle cx="711.80" cy="194.00" r="2.70" stroke="#000" stroke-width="0.8" fill="none" />
<circle cx="711.80" cy="194.00" r="0.50" stroke="#000" stroke-width="0.5" fill="#000" />
<circle cx="581.00" cy="254.50" r="5.80" stroke="#000" stroke-width="2.4" fill="#fff" />
<circle cx="581.00" cy="254.50" r="2.70" stroke="#000" stroke-width="0.8" fill="none" />
<circle cx="581.00" cy="254.50" r="0.50" stroke="#000" stroke-width="0.5" fill="#000" />
<circle cx="727.80" cy="254.50" r="5.80" stroke="#000" stroke-width="2.4" fill="#fff" />
<circle cx="727.80" cy="254.50" r="2.70" stroke="#000" stroke-width="0.8" fill="none" />
<circle cx="727.80" cy="254.50" r="0.50" stroke="#000" stroke-width="0.5" fill="#000" />
<circle cx="617.80" cy="315.50" r="5.80" stroke="#000" stroke-width="2.4" fill="#fff" />
<circle cx="617.80" cy="315.50" r="2.70" stroke="#000" stroke-width="0.8" fill="none" />
<circle cx="617.80" cy="315.50" r="0.50" stroke="#000" stroke-width="0.5" fill="#000" />
<circle cx="691.00" cy="315.50" r="5.80" stroke="#000" stroke-width="2.4" fill="#fff" />
<circle cx="691.00" cy="315.50" r="2.70" stroke="#000" stroke-width="0.8" fill="none" />
<circle cx="691.00" cy="315.50" r="0.50" stroke="#000" stroke-width="0.5" fill="#000" />
<rect x="-6.00" y="-1.45" width="12" height="2.9" rx="1.45" transform="translate(610.80,148.00) rotate(12)" fill="#fff" stroke="#000" stroke-width="1.15"/>
<rect x="-6.00" y="-1.45" width="12" height="2.9" rx="1.45" transform="translate(698.00,148.00) rotate(-12)" fill="#fff" stroke="#000" stroke-width="1.15"/>
<rect x="-6.00" y="-1.45" width="12" height="2.9" rx="1.45" transform="translate(590.50,221.50) rotate(15)" fill="#fff" stroke="#000" stroke-width="1.15"/>
<rect x="-6.00" y="-1.45" width="12" height="2.9" rx="1.45" transform="translate(718.30,221.50) rotate(-15)" fill="#fff" stroke="#000" stroke-width="1.15"/>
<rect x="-6.00" y="-1.45" width="12" height="2.9" rx="1.45" transform="translate(588.50,261.50) rotate(-30)" fill="#fff" stroke="#000" stroke-width="1.15"/>
<rect x="-6.00" y="-1.45" width="12" height="2.9" rx="1.45" transform="translate(720.30,261.50) rotate(30)" fill="#fff" stroke="#000" stroke-width="1.15"/>
<rect x="-6.00" y="-1.45" width="12" height="2.9" rx="1.45" transform="translate(612.00,303.50) rotate(-30)" fill="#fff" stroke="#000" stroke-width="1.15"/>
<rect x="-6.00" y="-1.45" width="12" height="2.9" rx="1.45" transform="translate(696.80,303.50) rotate(30)" fill="#fff" stroke="#000" stroke-width="1.15"/>
<rect x="-6.00" y="-1.45" width="12" height="2.9" rx="1.45" transform="translate(636.80,131.50) rotate(90)" fill="#fff" stroke="#000" stroke-width="1.15"/>
<rect x="-6.00" y="-1.45" width="12" height="2.9" rx="1.45" transform="translate(672.00,131.50) rotate(-90)" fill="#fff" stroke="#000" stroke-width="1.15"/>
<rect x="-6.00" y="-1.45" width="12" height="2.9" rx="1.45" transform="translate(629.60,314.50) rotate(90)" fill="#fff" stroke="#000" stroke-width="1.15"/>
<rect x="-6.00" y="-1.45" width="12" height="2.9" rx="1.45" transform="translate(679.20,314.50) rotate(-90)" fill="#fff" stroke="#000" stroke-width="1.15"/>
<rect x="639.00" y="138.00" width="30.80" height="7.60" rx="3" stroke="#000" stroke-width="1.3" fill="#fff" />
<line x1="638.00" y1="128.50" x2="670.80" y2="128.50" stroke="#000" stroke-width="0.7" />
<line x1="638.00" y1="134.60" x2="670.80" y2="134.60" stroke="#000" stroke-width="0.7" />
<path d="M645.6,123 L654.4,127.2 L663.6,123" stroke="#000" stroke-width="0.9" fill="none" />
<path d="M645.6,323 L654.4,318.6 L663.6,323" stroke="#000" stroke-width="0.8" fill="none" />
<circle cx="643.50" cy="312.00" r="1.70" stroke="#000" stroke-width="0.7" fill="#fff" />
<line x1="631.00" y1="310.50" x2="677.80" y2="310.50" stroke="#000" stroke-width="0.7" />
<circle cx="654.40" cy="254.30" r="58.70" stroke="#000" stroke-width="1.0" fill="none" />
<circle cx="654.40" cy="254.30" r="56.90" stroke="#000" stroke-width="0.8" fill="none" />
<path d="M700.36,266.70 A47.6,47.6 0 0 1 666.80,300.26 L666.80,290.64 A38.4,38.4 0 0 0 690.74,266.70 Z" stroke="#000" stroke-width="6.199999999999999" fill="#000" stroke-linejoin="round"/>
<path d="M700.36,266.70 A47.6,47.6 0 0 1 666.80,300.26 L666.80,290.64 A38.4,38.4 0 0 0 690.74,266.70 Z" stroke="#fff" stroke-width="3.4" fill="#fff" stroke-linejoin="round"/>
<path d="M642.00,300.26 A47.6,47.6 0 0 1 608.44,266.70 L618.06,266.70 A38.4,38.4 0 0 0 642.00,290.64 Z" stroke="#000" stroke-width="6.199999999999999" fill="#000" stroke-linejoin="round"/>
<path d="M642.00,300.26 A47.6,47.6 0 0 1 608.44,266.70 L618.06,266.70 A38.4,38.4 0 0 0 642.00,290.64 Z" stroke="#fff" stroke-width="3.4" fill="#fff" stroke-linejoin="round"/>
<path d="M608.44,241.90 A47.6,47.6 0 0 1 642.00,208.34 L642.00,217.96 A38.4,38.4 0 0 0 618.06,241.90 Z" stroke="#000" stroke-width="6.199999999999999" fill="#000" stroke-linejoin="round"/>
<path d="M608.44,241.90 A47.6,47.6 0 0 1 642.00,208.34 L642.00,217.96 A38.4,38.4 0 0 0 618.06,241.90 Z" stroke="#fff" stroke-width="3.4" fill="#fff" stroke-linejoin="round"/>
<path d="M666.80,208.34 A47.6,47.6 0 0 1 700.36,241.90 L690.74,241.90 A38.4,38.4 0 0 0 666.80,217.96 Z" stroke="#000" stroke-width="6.199999999999999" fill="#000" stroke-linejoin="round"/>
<path d="M666.80,208.34 A47.6,47.6 0 0 1 700.36,241.90 L690.74,241.90 A38.4,38.4 0 0 0 666.80,217.96 Z" stroke="#fff" stroke-width="3.4" fill="#fff" stroke-linejoin="round"/>
<circle cx="654.40" cy="254.30" r="42.70" stroke="#000" stroke-width="0.8" fill="none" stroke-dasharray="7 1.5 1.5 1.5"/>
<circle cx="611.70" cy="254.30" r="4.40" stroke="#000" stroke-width="1.3" fill="#fff" />
<circle cx="697.10" cy="254.30" r="4.40" stroke="#000" stroke-width="1.3" fill="#fff" />
<circle cx="654.40" cy="211.60" r="4.40" stroke="#000" stroke-width="1.3" fill="#fff" />
<circle cx="654.40" cy="297.00" r="4.40" stroke="#000" stroke-width="1.3" fill="#fff" />
<circle cx="654.40" cy="254.30" r="29.60" stroke="#000" stroke-width="4.2" fill="none" />
<circle cx="654.40" cy="254.30" r="25.40" stroke="#000" stroke-width="1.6" fill="none" />
<circle cx="654.40" cy="254.30" r="20.20" stroke="#000" stroke-width="0.9" fill="none" />
<circle cx="654.40" cy="254.30" r="17.00" stroke="#000" stroke-width="1.4" fill="none" />
<circle cx="654.40" cy="254.30" r="14.40" stroke="#000" stroke-width="0.8" fill="none" />
<path d="M667.40,254.30 L667.24,256.33 L665.05,257.76 L664.38,259.38 L664.92,261.94 L663.59,263.49 L660.98,263.36 L659.48,264.28 L658.42,266.66 L656.43,267.14 L654.40,265.50 L652.65,265.36 L650.38,266.66 L648.50,265.88 L647.82,263.36 L646.48,262.22 L643.88,261.94 L642.82,260.20 L643.75,257.76 L643.34,256.05 L641.40,254.30 L641.56,252.27 L643.75,250.84 L644.42,249.22 L643.88,246.66 L645.21,245.11 L647.82,245.24 L649.32,244.32 L650.38,241.94 L652.37,241.46 L654.40,243.10 L656.15,243.24 L658.42,241.94 L660.30,242.72 L660.98,245.24 L662.32,246.38 L664.92,246.66 L665.98,248.40 L665.05,250.84 L665.46,252.55 Z" stroke="#000" stroke-width="0.9" fill="none" />
<rect x="648.00" y="272.00" width="4.60" height="4.40" rx="0" stroke="#000" stroke-width="0.9" fill="none" />
<rect x="656.20" y="272.00" width="4.60" height="4.40" rx="0" stroke="#000" stroke-width="0.9" fill="none" />
<rect x="649.20" y="273.40" width="2.20" height="3.00" rx="0" stroke="#000" stroke-width="0.6" fill="none" />
<rect x="657.40" y="273.40" width="2.20" height="3.00" rx="0" stroke="#000" stroke-width="0.6" fill="none" />
<line x1="654.40" y1="95.00" x2="654.40" y2="343.00" stroke="#000" stroke-width="0.9" />
<line x1="560.00" y1="254.30" x2="750.00" y2="254.30" stroke="#000" stroke-width="0.8" stroke-dasharray="12 2 2 2"/>
<line x1="615.00" y1="336.40" x2="672.80" y2="215.78" stroke="#000" stroke-width="0.8" />
<polygon points="672.80,215.78 671.21,221.67 669.22,220.72" fill="#000"/>
<polygon points="636.00,292.82 637.59,286.93 639.58,287.88" fill="#000"/>
<line x1="728.00" y1="193.60" x2="610.73" y2="290.12" stroke="#000" stroke-width="0.8" />
<polygon points="698.07,218.48 694.13,223.13 692.74,221.43" fill="#000"/>
<polygon points="610.73,290.12 614.67,285.47 616.06,287.17" fill="#000"/>
<text x="18.40" y="77.00" font-size="11.5" textLength="28.60" lengthAdjust="spacingAndGlyphs" class="t">4-M10</text>
<line x1="15.60" y1="79.60" x2="56.00" y2="79.60" stroke="#000" stroke-width="1.15" />
<line x1="56.00" y1="79.60" x2="74.50" y2="125.50" stroke="#000" stroke-width="1.15" />
<text x="17.80" y="89.60" font-size="10.3" textLength="34.60" lengthAdjust="spacingAndGlyphs" class="b">Depth 16</text>
<text x="21.00" y="115.20" font-size="11.5" textLength="22.00" lengthAdjust="spacingAndGlyphs" class="t">4-M8</text>
<line x1="15.00" y1="117.00" x2="50.00" y2="117.00" stroke="#000" stroke-width="1.15" />
<line x1="50.00" y1="117.00" x2="69.00" y2="133.50" stroke="#000" stroke-width="1.15" />
<text x="15.60" y="127.60" font-size="10.3" textLength="34.20" lengthAdjust="spacingAndGlyphs" class="b">Depth 13</text>
<text x="114.00" y="68.00" font-size="11.5" textLength="11.00" lengthAdjust="spacingAndGlyphs" class="t">98</text>
<line x1="80.00" y1="72.40" x2="156.40" y2="72.40" stroke="#000" stroke-width="1.15" />
<polygon points="80.00,72.40 87.00,70.85 87.00,73.95" fill="#000"/>
<polygon points="156.40,72.40 149.40,73.95 149.40,70.85" fill="#000"/>
<line x1="80.00" y1="69.00" x2="80.00" y2="141.00" stroke="#000" stroke-width="1.15" />
<line x1="156.40" y1="69.00" x2="156.40" y2="141.00" stroke="#000" stroke-width="1.15" />
<text x="108.00" y="90.00" font-size="11.5" textLength="18.40" lengthAdjust="spacingAndGlyphs" class="t">71.5</text>
<line x1="90.20" y1="94.40" x2="146.60" y2="94.40" stroke="#000" stroke-width="1.15" />
<polygon points="90.20,94.40 97.20,92.85 97.20,95.95" fill="#000"/>
<polygon points="146.60,94.40 139.60,95.95 139.60,92.85" fill="#000"/>
<line x1="90.20" y1="91.00" x2="90.20" y2="149.00" stroke="#000" stroke-width="1.15" />
<line x1="146.60" y1="91.00" x2="146.60" y2="149.00" stroke="#000" stroke-width="1.15" />
<text transform="translate(13.00,196.00) rotate(-90)" font-size="11.5" textLength="15.50" lengthAdjust="spacingAndGlyphs" class="t">128</text>
<line x1="16.50" y1="142.20" x2="16.50" y2="241.10" stroke="#000" stroke-width="1.15" />
<polygon points="16.50,142.20 18.05,149.20 14.95,149.20" fill="#000"/>
<polygon points="16.50,241.10 14.95,234.10 18.05,234.10" fill="#000"/>
<line x1="13.30" y1="142.20" x2="86.00" y2="142.20" stroke="#000" stroke-width="1.15" />
<line x1="13.30" y1="241.10" x2="82.00" y2="241.10" stroke="#000" stroke-width="1.15" />
<text transform="translate(34.00,192.50) rotate(-90)" font-size="11.5" textLength="10.50" lengthAdjust="spacingAndGlyphs" class="t">96</text>
<line x1="38.00" y1="149.90" x2="38.00" y2="224.20" stroke="#000" stroke-width="1.15" />
<polygon points="38.00,149.90 39.55,156.90 36.45,156.90" fill="#000"/>
<polygon points="38.00,224.20 36.45,217.20 39.55,217.20" fill="#000"/>
<line x1="35.00" y1="149.90" x2="95.00" y2="149.90" stroke="#000" stroke-width="1.15" />
<line x1="35.00" y1="224.20" x2="92.00" y2="224.20" stroke="#000" stroke-width="1.15" />
<text transform="translate(194.00,134.00) rotate(-90)" font-size="11.5" textLength="23.40" lengthAdjust="spacingAndGlyphs" class="t">32.35</text>
<line x1="197.80" y1="107.30" x2="197.80" y2="175.10" stroke="#000" stroke-width="1.15" />
<polygon points="197.80,150.20 199.35,157.20 196.25,157.20" fill="#000"/>
<polygon points="197.80,175.10 196.25,168.10 199.35,168.10" fill="#000"/>
<text transform="translate(214.40,132.50) rotate(-90)" font-size="11.5" textLength="18.90" lengthAdjust="spacingAndGlyphs" class="t">42.4</text>
<line x1="218.20" y1="107.30" x2="218.20" y2="175.10" stroke="#000" stroke-width="1.15" />
<polygon points="218.20,141.90 219.75,148.90 216.65,148.90" fill="#000"/>
<polygon points="218.20,175.10 216.65,168.10 219.75,168.10" fill="#000"/>
<line x1="150.00" y1="150.20" x2="200.80" y2="150.20" stroke="#000" stroke-width="1.15" />
<line x1="158.00" y1="141.90" x2="221.20" y2="141.90" stroke="#000" stroke-width="1.15" />
<line x1="160.00" y1="175.10" x2="221.20" y2="175.10" stroke="#000" stroke-width="1.15" />
<text x="219.60" y="303.00" font-size="11.6" textLength="55.00" lengthAdjust="spacingAndGlyphs" class="t">Oil level plug</text>
<line x1="215.90" y1="306.40" x2="276.50" y2="306.40" stroke="#000" stroke-width="1.15" />
<line x1="215.90" y1="306.40" x2="202.60" y2="272.60" stroke="#000" stroke-width="1.15" />
<polygon points="202.40,272.00 204.70,275.42 202.81,276.10" fill="#000"/>
<text x="43.40" y="356.00" font-size="11.6" textLength="56.70" lengthAdjust="spacingAndGlyphs" class="t">Oil drain plug</text>
<line x1="42.00" y1="361.00" x2="104.00" y2="361.00" stroke="#000" stroke-width="1.15" />
<line x1="104.00" y1="361.00" x2="114.90" y2="329.90" stroke="#000" stroke-width="1.15" />
<text x="399.00" y="67.60" font-size="11.5" textLength="18.60" lengthAdjust="spacingAndGlyphs" class="t">89.5</text>
<line x1="372.40" y1="71.60" x2="441.60" y2="71.60" stroke="#000" stroke-width="1.15" />
<polygon points="372.40,71.60 379.40,70.05 379.40,73.15" fill="#000"/>
<polygon points="441.60,71.60 434.60,73.15 434.60,70.05" fill="#000"/>
<line x1="372.40" y1="68.40" x2="372.40" y2="138.00" stroke="#000" stroke-width="1.15" />
<line x1="372.40" y1="181.50" x2="372.40" y2="199.50" stroke="#000" stroke-width="1.15" />
<line x1="441.60" y1="68.40" x2="441.60" y2="200.00" stroke="#000" stroke-width="1.15" />
<text x="408.00" y="89.60" font-size="11.5" textLength="10.00" lengthAdjust="spacingAndGlyphs" class="t">70</text>
<line x1="386.40" y1="93.60" x2="441.60" y2="93.60" stroke="#000" stroke-width="1.15" />
<polygon points="386.40,93.60 393.40,92.05 393.40,95.15" fill="#000"/>
<polygon points="441.60,93.60 434.60,95.15 434.60,92.05" fill="#000"/>
<line x1="386.40" y1="90.00" x2="386.40" y2="126.00" stroke="#000" stroke-width="1.15" />
<text x="466.00" y="118.00" font-size="11.5" textLength="13.40" lengthAdjust="spacingAndGlyphs" class="t">6.7</text>
<line x1="421.00" y1="121.40" x2="436.60" y2="121.40" stroke="#000" stroke-width="1.15" />
<polygon points="436.60,121.40 429.60,122.95 429.60,119.85" fill="#000"/>
<line x1="441.60" y1="121.40" x2="488.00" y2="121.40" stroke="#000" stroke-width="1.15" />
<polygon points="441.60,121.40 448.60,119.85 448.60,122.95" fill="#000"/>
<line x1="436.60" y1="118.00" x2="436.60" y2="160.00" stroke="#000" stroke-width="1.15" />
<text x="303.00" y="141.00" font-size="11.6" textLength="36.00" lengthAdjust="spacingAndGlyphs" class="b">1&quot;3/8 Z6</text>
<line x1="299.00" y1="143.40" x2="343.00" y2="143.40" stroke="#000" stroke-width="1.15" />
<line x1="343.00" y1="143.40" x2="364.40" y2="243.80" stroke="#000" stroke-width="1.15" />
<polygon points="364.40,243.80 362.14,238.13 364.30,237.70" fill="#000"/>
<text x="303.00" y="153.80" font-size="11.2" textLength="38.30" lengthAdjust="spacingAndGlyphs" class="b">DIN 9611</text>
<text x="315.00" y="180.40" font-size="11.5" textLength="18.60" lengthAdjust="spacingAndGlyphs" class="t">39.8</text>
<line x1="309.00" y1="185.00" x2="372.40" y2="185.00" stroke="#000" stroke-width="1.15" />
<polygon points="342.00,185.00 349.00,183.45 349.00,186.55" fill="#000"/>
<polygon points="372.40,185.00 365.40,186.55 365.40,183.45" fill="#000"/>
<line x1="341.60" y1="182.00" x2="341.60" y2="368.00" stroke="#000" stroke-width="1.15" />
<text x="319.00" y="206.40" font-size="11.5" textLength="13.00" lengthAdjust="spacingAndGlyphs" class="t">4.5</text>
<line x1="309.00" y1="210.70" x2="369.00" y2="210.70" stroke="#000" stroke-width="1.15" />
<polygon points="369.00,210.70 362.00,212.25 362.00,209.15" fill="#000"/>
<line x1="372.60" y1="210.70" x2="388.00" y2="210.70" stroke="#000" stroke-width="1.15" />
<polygon points="372.60,210.70 379.60,209.15 379.60,212.25" fill="#000"/>
<line x1="369.00" y1="207.50" x2="369.00" y2="221.00" stroke="#000" stroke-width="1.15" />
<text x="323.60" y="316.60" font-size="11.5" textLength="10.40" lengthAdjust="spacingAndGlyphs" class="t">47</text>
<line x1="317.60" y1="320.60" x2="377.00" y2="320.60" stroke="#000" stroke-width="1.15" />
<polygon points="341.60,320.60 348.60,319.05 348.60,322.15" fill="#000"/>
<polygon points="377.00,320.60 370.00,322.15 370.00,319.05" fill="#000"/>
<line x1="377.00" y1="281.00" x2="377.00" y2="323.50" stroke="#000" stroke-width="1.15" />
<text x="379.60" y="360.40" font-size="11.5" textLength="16.00" lengthAdjust="spacingAndGlyphs" class="t">105</text>
<line x1="341.60" y1="365.00" x2="423.60" y2="365.00" stroke="#000" stroke-width="1.15" />
<polygon points="341.60,365.00 348.60,363.45 348.60,366.55" fill="#000"/>
<polygon points="423.60,365.00 416.60,366.55 416.60,363.45" fill="#000"/>
<line x1="423.60" y1="313.00" x2="423.60" y2="368.00" stroke="#000" stroke-width="1.15" />
<text transform="translate(275.60,270.40) rotate(-90)" font-size="11.5" textLength="29.40" lengthAdjust="spacingAndGlyphs" class="t">Ø82&#160; f8</text>
<line x1="281.00" y1="222.60" x2="281.00" y2="286.00" stroke="#000" stroke-width="1.15" />
<polygon points="281.00,222.60 282.55,229.60 279.45,229.60" fill="#000"/>
<polygon points="281.00,286.00 279.45,279.00 282.55,279.00" fill="#000"/>
<line x1="278.20" y1="222.60" x2="368.00" y2="222.60" stroke="#000" stroke-width="1.15" />
<line x1="278.20" y1="286.00" x2="370.00" y2="286.00" stroke="#000" stroke-width="1.15" />
<text transform="translate(299.40,265.00) rotate(-90)" font-size="11.5" textLength="18.00" lengthAdjust="spacingAndGlyphs" class="t">Ø70</text>
<line x1="303.00" y1="226.40" x2="303.00" y2="281.40" stroke="#000" stroke-width="1.15" />
<polygon points="303.00,226.40 304.55,233.40 301.45,233.40" fill="#000"/>
<polygon points="303.00,281.40 301.45,274.40 304.55,274.40" fill="#000"/>
<line x1="300.00" y1="226.40" x2="352.00" y2="226.40" stroke="#000" stroke-width="1.15" />
<line x1="300.00" y1="281.40" x2="352.00" y2="281.40" stroke="#000" stroke-width="1.15" />
<text transform="translate(321.40,269.00) rotate(-90)" font-size="11.5" textLength="31.00" lengthAdjust="spacingAndGlyphs" class="t">Ø34.93</text>
<line x1="326.00" y1="240.60" x2="326.00" y2="267.40" stroke="#000" stroke-width="1.15" />
<polygon points="326.00,240.60 327.55,247.60 324.45,247.60" fill="#000"/>
<polygon points="326.00,267.40 324.45,260.40 327.55,260.40" fill="#000"/>
<line x1="323.00" y1="240.60" x2="342.00" y2="240.60" stroke="#000" stroke-width="1.15" />
<line x1="323.00" y1="267.40" x2="342.00" y2="267.40" stroke="#000" stroke-width="1.15" />
<text transform="translate(503.00,150.00) rotate(-90)" font-size="11.5" textLength="25.00" lengthAdjust="spacingAndGlyphs" class="t">Ø50.8</text>
<line x1="505.60" y1="121.00" x2="505.60" y2="194.40" stroke="#000" stroke-width="1.15" />
<polygon points="505.60,155.30 507.15,162.30 504.05,162.30" fill="#000"/>
<polygon points="505.60,194.40 504.05,187.40 507.15,187.40" fill="#000"/>
<line x1="442.00" y1="155.30" x2="509.00" y2="155.30" stroke="#000" stroke-width="1.15" />
<line x1="442.00" y1="194.40" x2="509.00" y2="194.40" stroke="#000" stroke-width="1.15" />
<text transform="translate(460.00,240.00) rotate(-90)" font-size="11.5" textLength="36.00" lengthAdjust="spacingAndGlyphs" class="t">A35<tspan font-size="16.5" dy="1.3" stroke-width="0.1">×</tspan><tspan dy="-1.3">31</tspan></text>
<text transform="translate(473.00,240.00) rotate(-90)" font-size="11.5" textLength="36.00" lengthAdjust="spacingAndGlyphs" class="t">DIN5482</text>
<line x1="475.60" y1="163.00" x2="475.60" y2="242.40" stroke="#000" stroke-width="1.15" />
<polygon points="475.60,163.00 477.15,170.00 474.05,170.00" fill="#000"/>
<polygon points="475.60,187.40 474.05,180.40 477.15,180.40" fill="#000"/>
<line x1="442.00" y1="163.00" x2="478.40" y2="163.00" stroke="#000" stroke-width="1.15" />
<line x1="442.00" y1="187.40" x2="478.40" y2="187.40" stroke="#000" stroke-width="1.15" />
<text transform="translate(534.00,217.60) rotate(-90)" font-size="11.5" textLength="14.60" lengthAdjust="spacingAndGlyphs" class="t">102</text>
<line x1="538.40" y1="175.20" x2="538.40" y2="253.80" stroke="#000" stroke-width="1.15" />
<polygon points="538.40,175.20 539.95,182.20 536.85,182.20" fill="#000"/>
<polygon points="538.40,253.80 536.85,246.80 539.95,246.80" fill="#000"/>
<text x="572.60" y="86.60" font-size="11.6" textLength="54.00" lengthAdjust="spacingAndGlyphs" class="t">Oil filling cap</text>
<line x1="572.40" y1="91.40" x2="630.00" y2="91.40" stroke="#000" stroke-width="1.15" />
<line x1="630.00" y1="91.40" x2="650.40" y2="111.60" stroke="#000" stroke-width="1.15" />
<text x="618.40" y="176.00" font-size="11.5" textLength="27.60" lengthAdjust="spacingAndGlyphs" class="t">4-M12</text>
<line x1="614.00" y1="178.00" x2="649.00" y2="178.00" stroke="#000" stroke-width="1.15" />
<line x1="649.00" y1="178.00" x2="653.50" y2="207.00" stroke="#000" stroke-width="1.15" />
<text x="614.20" y="188.60" font-size="10.3" textLength="34.40" lengthAdjust="spacingAndGlyphs" class="b">Depth 18</text>
<text x="736.00" y="190.00" font-size="11.5" textLength="22.40" lengthAdjust="spacingAndGlyphs" class="t">Ø145</text>
<line x1="728.00" y1="193.60" x2="759.00" y2="193.60" stroke="#000" stroke-width="1.15" />
<text x="584.40" y="333.00" font-size="11.5" textLength="22.60" lengthAdjust="spacingAndGlyphs" class="t">Ø110</text>
<line x1="579.00" y1="336.40" x2="615.00" y2="336.40" stroke="#000" stroke-width="1.15" />
<text x="653.00" y="363.00" font-size="11.5" textLength="16.00" lengthAdjust="spacingAndGlyphs" class="t">216</text>
<line x1="567.60" y1="367.40" x2="734.60" y2="367.40" stroke="#000" stroke-width="1.15" />
<polygon points="567.60,367.40 574.60,365.85 574.60,368.95" fill="#000"/>
<polygon points="734.60,367.40 727.60,368.95 727.60,365.85" fill="#000"/>
<line x1="567.60" y1="280.00" x2="567.60" y2="371.00" stroke="#000" stroke-width="1.15" />
<line x1="734.60" y1="261.00" x2="734.60" y2="371.00" stroke="#000" stroke-width="1.15" />
<text transform="translate(787.00,231.00) rotate(-90)" font-size="11.5" textLength="23.50" lengthAdjust="spacingAndGlyphs" class="t">293.5</text>
<line x1="790.70" y1="106.00" x2="790.70" y2="333.40" stroke="#000" stroke-width="1.15" />
<polygon points="790.70,106.00 792.25,113.00 789.15,113.00" fill="#000"/>
<polygon points="790.70,333.40 789.15,326.40 792.25,326.40" fill="#000"/>
<line x1="663.60" y1="106.00" x2="794.00" y2="106.00" stroke="#000" stroke-width="1.15" />
<line x1="663.60" y1="333.40" x2="794.00" y2="333.40" stroke="#000" stroke-width="1.15" />
</svg>
</body></html>
